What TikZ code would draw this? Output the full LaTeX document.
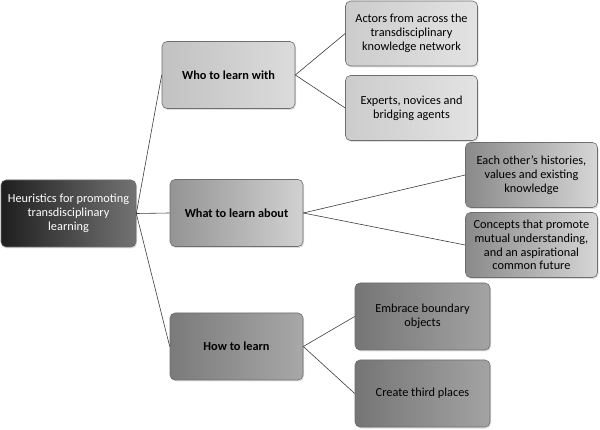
\documentclass[tikz,border=0pt]{standalone}
\usepackage{fontspec}
\setmainfont{Carlito}
\usetikzlibrary{shadows}
\definecolor{boxedge}{RGB}{110, 110, 110}
\definecolor{linkgray}{RGB}{60, 60, 60}
\begin{document}
\begin{tikzpicture}[x=1pt, y=-1pt,
    box/.style={draw=boxedge, line width=0.6pt, rounded corners=5pt, align=center,
      inner sep=2pt, font=\fontsize{12.3}{13.8}\selectfont,
      drop shadow={opacity=0.25, shadow xshift=1pt, shadow yshift=-1.5pt}},
    rootbox/.style={box, minimum width=135pt, minimum height=67pt, text=white,
      left color=black!88, right color=black!55},
    headbox/.style={box, minimum width=133pt, minimum height=67pt, font=\fontsize{12.3}{13.8}\selectfont\bfseries},
    leafbox/.style={box, minimum width=132pt, minimum height=65pt},
    link/.style={draw=linkgray, line width=0.6pt}]
    \useasboundingbox (0,0) rectangle (600,430);
    \node[rootbox] (root) at (68.5,213.5) {Heuristics for promoting\\transdisciplinary\\learning};
    \node[headbox, left color=black!24, right color=black!14] (who) at (228.5,75) {Who to learn with};
    \node[headbox, left color=black!42, right color=black!18] (what) at (236.5,213) {What to learn about};
    \node[headbox, left color=black!52, right color=black!34] (how) at (236.5,346.5) {How to learn};
    \node[leafbox, left color=black!20, right color=black!11] (actors) at (411.5,33.5) {Actors from across the\\transdisciplinary\\knowledge network};
    \node[leafbox, left color=black!20, right color=black!11] (experts) at (411.5,108) {Experts, novices and\\bridging agents};
    \node[leafbox, left color=black!46, right color=black!16] (histories) at (531.5,175) {Each other’s histories,\\values and existing\\knowledge};
    \node[leafbox, left color=black!46, right color=black!16] (concepts) at (531.5,245) {Concepts that promote\\mutual understanding,\\and an aspirational\\common future};
    \node[leafbox, minimum width=135pt, minimum height=67pt, left color=black!54, right color=black!36] (embrace) at (422.5,316.5) {Embrace boundary\\objects};
    \node[leafbox, minimum width=135pt, minimum height=67pt, left color=black!54, right color=black!36] (third) at (422.5,393.5) {Create third places};
    \draw[link] (root.east) -- (who.west);
    \draw[link] (root.east) -- (what.west);
    \draw[link] (root.east) -- (how.west);
    \draw[link] (who.east) -- (actors.west);
    \draw[link] (who.east) -- (experts.west);
    \draw[link] (what.east) -- (histories.west);
    \draw[link] (what.east) -- (concepts.west);
    \draw[link] (how.east) -- (embrace.west);
    \draw[link] (how.east) -- (third.west);
\end{tikzpicture}
\end{document}
